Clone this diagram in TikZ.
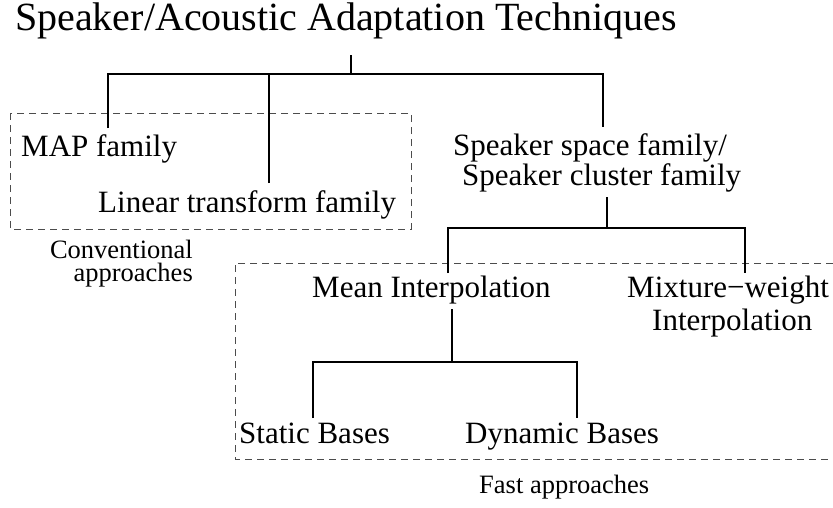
\documentclass[tikz,border=0pt]{standalone}
\usepackage{fontspec}
\setmainfont{Liberation Serif}
\begin{document}
\begin{tikzpicture}[x=1pt,y=-1pt,
  lbl/.style={inner sep=0pt,anchor=base west,font=\fontsize{31}{36}\selectfont},
  small/.style={inner sep=0pt,font=\fontsize{26.5}{30}\selectfont},
  tree/.style={line width=1.8pt,black},
  grp/.style={line width=1pt,draw=black!70,dash pattern=on 7pt off 5pt}]
\useasboundingbox (0,0) rectangle (833,507);
% groups
\draw[grp] (10,113) rectangle (411,229);
\draw[grp] (833,263) -- (235,263) -- (235,459) -- (833,459);
% texts
\node[inner sep=0pt,anchor=base west,font=\fontsize{40}{48}\selectfont] (title) at (15,30) {Speaker/Acoustic Adaptation Techniques};
\node[lbl] (map) at (21,156) {MAP family};
\node[lbl] (lin) at (98,212) {Linear transform family};
\node[lbl] (ss1) at (453,155) {Speaker space family/};
\node[lbl] (ss2) at (462,185) {Speaker cluster family};
\node[small,anchor=base east] (conv1) at (193,258) {Conventional};
\node[small,anchor=base east] (conv2) at (193,281) {approaches};
\node[lbl] (mean) at (312,297) {Mean Interpolation};
\node[lbl] (mix1) at (627,297) {Mixture−weight};
\node[lbl] (mix2) at (652,330) {Interpolation};
\node[lbl] (stat) at (239,443) {Static Bases};
\node[lbl] (dyn) at (465,443) {Dynamic Bases};
\node[small,anchor=base west] (fast) at (479,493) {Fast approaches};
% connector points
\coordinate (t0) at (351,55);
\coordinate (j0) at (351,74);
\coordinate (cmap) at (108,128);
\coordinate (clin) at (269,183);
\coordinate (css) at (603,127);
\coordinate (csc) at (607,197);
\coordinate (j1) at (607,228);
\coordinate (cmean) at (448,273);
\coordinate (cmix) at (745,273);
\coordinate (cmd) at (452,309);
\coordinate (j2) at (452,362);
\coordinate (cstat) at (313,418);
\coordinate (cdyn) at (577,418);
% tree
\draw[tree] (t0) -- (j0);
\draw[tree] (cmap) |- (j0) -| (css);
\draw[tree] (clin) -- (clin |- j0);
\draw[tree] (csc) -- (j1);
\draw[tree] (cmean) |- (j1) -| (cmix);
\draw[tree] (cmd) -- (j2);
\draw[tree] (cstat) |- (j2) -| (cdyn);
\end{tikzpicture}
\end{document}
